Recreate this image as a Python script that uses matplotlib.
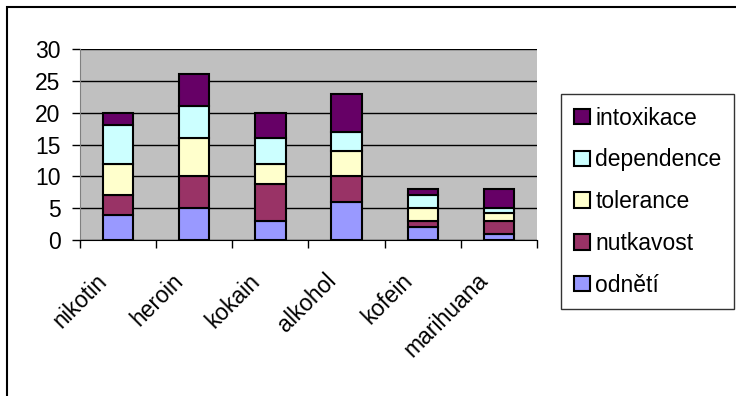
import matplotlib
matplotlib.use('Agg')
import numpy as np
from matplotlib import pyplot as plt
from matplotlib.patches import Rectangle

plt.rcParams['font.family'] = ['Liberation Sans', 'DejaVu Sans']

# data
drugs = ['nikotin', 'heroin', 'kokain', 'alkohol', 'kofein', 'marihuana']
odneti = [4, 5, 3, 6, 2, 1]
nutkavost = [3, 5, 5.8, 4, 1, 2]
tolerance = [5, 6, 3.2, 4, 2, 1.3]
dependence = [6, 5, 4, 3, 2, 0.7]
intoxikace = [2, 5, 4, 6, 1, 3]

series = [('odnětí', odneti, '#9999FF'),
          ('nutkavost', nutkavost, '#993366'),
          ('tolerance', tolerance, '#FFFFCC'),
          ('dependence', dependence, '#CCFFFF'),
          ('intoxikace', intoxikace, '#660066')]

FS = 16.5
W, H = 736, 396
fig = plt.figure(figsize=(W / 100, H / 100), dpi=100)
ax = fig.add_axes([80 / W, 1 - 240 / H, (537 - 80) / W, (240 - 49) / H])
ax.set_facecolor('#C0C0C0')

x = np.arange(len(drugs))
bottom = np.zeros(len(drugs))
handles = []
for name, vals, col in series:
    b = ax.bar(x, vals, 0.4, bottom=bottom, color=col, edgecolor='black',
               linewidth=1.5, label=name, zorder=3)
    handles.append(b)
    bottom += np.array(vals)

ax.set_xlim(-0.5, len(drugs) - 0.5)
ax.set_ylim(0, 30)
ax.set_yticks(range(0, 31, 5))
ax.yaxis.grid(True, color='black', linewidth=1, zorder=1)
ax.tick_params(axis='y', length=6, width=1, labelsize=FS, pad=8)

# category ticks at the boundaries, labels placed under the centres
ax.set_xticks(np.arange(len(drugs) + 1) - 0.5)
ax.set_xticklabels([])
ax.tick_params(axis='x', length=6, width=1)
for i, d in enumerate(drugs):
    ax.annotate(d, xy=(i, 0), xycoords=('data', 'axes fraction'),
                xytext=(-16, -21), textcoords='offset points',
                rotation=45, rotation_mode='anchor', ha='right', va='top',
                fontsize=FS, annotation_clip=False)

for s in ['top', 'right']:
    ax.spines[s].set_visible(False)
ax.spines['left'].set_color('#808080')
ax.spines['bottom'].set_color('black')

leg = fig.legend(handles[::-1], [s[0] for s in series[::-1]],
                 loc='upper left', bbox_to_anchor=(561 / W, 1 - 94 / H),
                 fontsize=FS, frameon=True, fancybox=False,
                 handlelength=0.7, handleheight=0.65, handletextpad=0.25,
                 labelspacing=0.82, borderpad=0.55, borderaxespad=0)
leg.get_frame().set_edgecolor('black')
leg.get_frame().set_linewidth(1)

# outer chart border
fig.patches.append(Rectangle((7 / W, -0.1), 1.2, 1 - 7 / H + 0.1,
                             transform=fig.transFigure, fill=False,
                             edgecolor='black', linewidth=1.5))

plt.savefig('out.png', dpi=100)
